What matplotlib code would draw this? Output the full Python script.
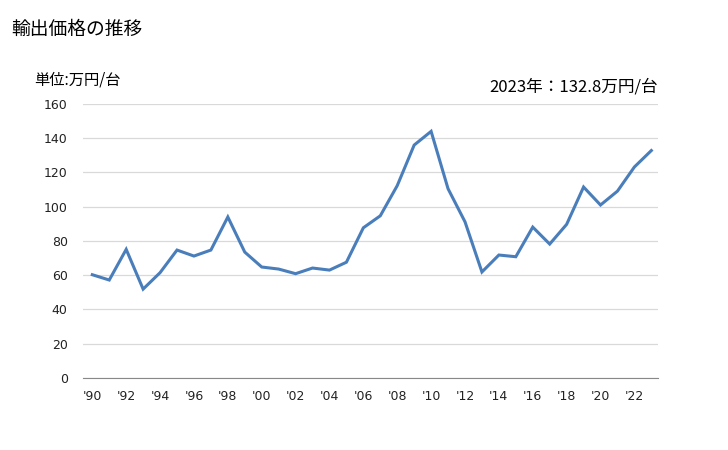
import numpy as np
import matplotlib.pyplot as plt

plt.rcParams['font.family'] = ['DejaVu Sans', 'Noto Sans CJK JP']

# 年と輸出価格（万円/台）
years = list(range(1990, 2024))
prices = [60.3, 57.2, 75.1, 51.9, 61.5, 74.7, 71.2, 74.7, 94.0, 73.5,
          64.8, 63.6, 60.9, 64.2, 63.0, 67.6, 87.7, 94.7, 112.3, 136.0,
          144.0, 110.5, 91.2, 61.9, 71.8, 70.8, 88.1, 78.2, 89.7, 111.5,
          101.0, 109.1, 123.2, 132.8]
tick_labels = ["'%02d" % (y % 100) for y in years[::2]]

fig = plt.figure(figsize=(7.28, 4.5), dpi=100)
ax = fig.add_axes([0.114, 0.16, 0.79, 0.609])

x = np.arange(len(years))
ax.plot(x, prices, color='#4a7ebb', linewidth=2.2, solid_joinstyle='miter')

ax.set_xlim(-0.55, len(years) - 0.6)
ax.set_ylim(0, 160)
ax.set_yticks(range(0, 161, 20))
ax.set_xticks(x[::2])
ax.set_xticklabels(tick_labels)
ax.grid(axis='y', color='#d9d9d9', linewidth=0.9)
ax.set_axisbelow(True)
for s in ['top', 'right', 'left']:
    ax.spines[s].set_visible(False)
ax.spines['bottom'].set_color('#888888')
ax.tick_params(length=0, labelsize=9, colors='#222222')
ax.tick_params(axis='y', pad=11)
ax.tick_params(axis='x', pad=9)

jp = ['Noto Sans CJK JP', 'DejaVu Sans']
fig.text(0.016, 0.935, '輸出価格の推移', fontsize=13.5, family=jp, va='center')
fig.text(0.047, 0.822, '単位:万円/台', fontsize=11, family=jp, va='center')
fig.text(0.904, 0.807, '2023年：132.8万円/台', fontsize=12, family=jp,
         va='center', ha='right')

fig.savefig('out.png', dpi=100)
